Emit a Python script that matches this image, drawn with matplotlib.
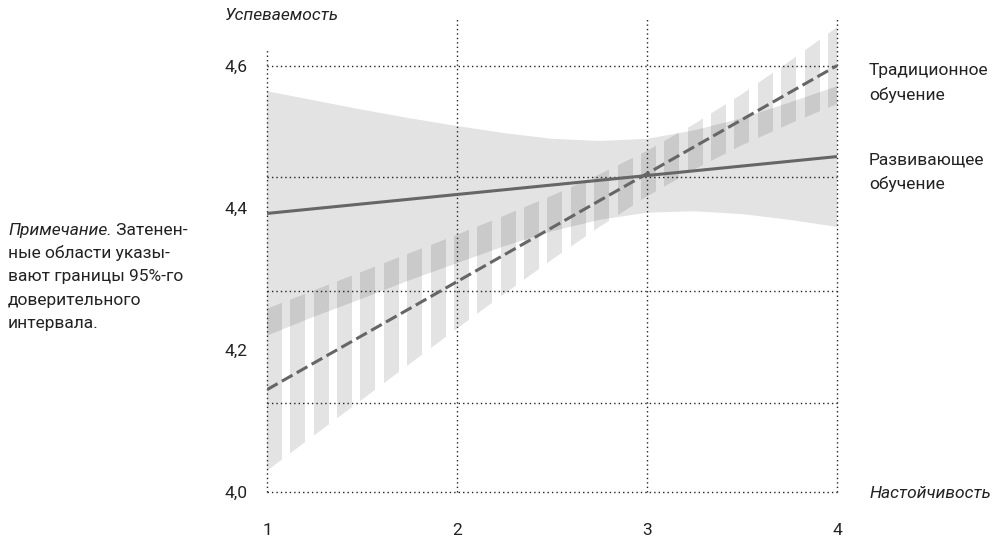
import matplotlib.pyplot as plt
import numpy as np
from matplotlib.patches import Polygon

# Data
x_pts = [1.0, 1.25, 1.5, 1.75, 2.0, 2.25, 2.5, 2.75, 3.0, 3.25, 3.5, 3.75, 4.0]

# Развивающее обучение (solid line + plain grey band)
dev_line = [4.392, 4.472]
dev_hi = [4.564, 4.551, 4.538, 4.526, 4.515, 4.505, 4.497, 4.494, 4.497, 4.509, 4.526, 4.548, 4.571]
dev_lo = [4.220, 4.247, 4.272, 4.298, 4.322, 4.346, 4.367, 4.383, 4.393, 4.395, 4.391, 4.383, 4.373]

# Традиционное обучение (dashed line + striped band)
trad_line = [4.144, 4.600]
trad_hi = [4.258, 4.284, 4.310, 4.336, 4.362, 4.389, 4.417, 4.447, 4.480, 4.518, 4.560, 4.606, 4.654]
trad_lo = [4.030, 4.080, 4.130, 4.180, 4.230, 4.279, 4.327, 4.373, 4.416, 4.454, 4.488, 4.518, 4.546]

x_ticks = [1, 2, 3, 4]
y_ticks = [4.0, 4.2, 4.4, 4.6]
y_labels = ["4,0", "4,2", "4,4", "4,6"]
grid_y = [4.6, 4.443, 4.283, 4.125, 4.0]

note_first = ("Примечание.", " Затенен-")
note_rest = ["ные области указы-", "вают границы 95%-го", "доверительного", "интервала."]

W, H = 999, 538
plt.rcParams['font.family'] = ['Roboto', 'DejaVu Sans']
fig = plt.figure(figsize=(W / 100, H / 100), dpi=100)
ax = fig.add_axes([267 / W, 1 - 492 / H, (837 - 267) / W, (492 - 18) / H])
ax.set_xlim(1, 4)
ax.set_ylim(4.0, 4.667)
for s in ax.spines.values():
    s.set_visible(False)

line_col = "#666666"
band_kw = dict(facecolor="black", alpha=0.11, edgecolor="none", zorder=1)

# grey confidence band
ax.fill_between(x_pts, dev_lo, dev_hi, **band_kw)

# striped confidence band: vertical bars clipped to the band outline
verts = np.column_stack([x_pts + x_pts[::-1], trad_lo + trad_hi[::-1]])
outline = Polygon(verts, closed=True, facecolor="none", edgecolor="none")
ax.add_patch(outline)
step, width = 0.123, 0.079
for k in range(25):
    x0 = 1 + k * step
    bar = ax.axvspan(x0, min(x0 + width, 4), **band_kw)
    bar.set_clip_path(outline)

# dotted grid
dot = dict(color="#222222", lw=1.0, linestyle=(0, (1, 2.2)), zorder=2, clip_on=False)
for gy in grid_y:
    ax.plot([1, 4], [gy, gy], **dot)
ax.plot([1, 1], [4.0, 4.625], **dot)
for gx in x_ticks[1:]:
    ax.plot([gx, gx], [4.0, 4.667], **dot)

# regression lines
ax.plot([1, 4], dev_line, color=line_col, lw=2.2, zorder=3, solid_capstyle="butt")
ax.plot([1, 4], trad_line, color=line_col, lw=2.2, zorder=3,
        linestyle=(0, (4, 1.6)), dash_capstyle="butt")

ax.set_xticks(x_ticks)
ax.set_xticklabels([str(t) for t in x_ticks])
ax.set_yticks(y_ticks)
ax.set_yticklabels(y_labels)
ax.tick_params(length=0, labelsize=12.5, colors="#222222")
ax.tick_params(axis="x", pad=22)
ax.tick_params(axis="y", pad=14)


def fx(px):
    return px / W


def fy(py):
    return 1 - py / H


txt = dict(fontsize=12.5, color="#222222")
fig.text(fx(225), fy(15), "Успеваемость", style="italic", va="center", ha="left", **txt)
fig.text(fx(870), fy(493), "Настойчивость", style="italic", va="center", ha="left", **txt)

fig.text(fx(869), fy(70), "Традиционное", va="center", ha="left", **txt)
fig.text(fx(869), fy(95), "обучение", va="center", ha="left", **txt)
fig.text(fx(869), fy(160), "Развивающее", va="center", ha="left", **txt)
fig.text(fx(869), fy(184), "обучение", va="center", ha="left", **txt)

# note on the left, one line at a time
base = fy(235)
t1 = fig.text(fx(8), base, note_first[0], style="italic", va="baseline", ha="left", **txt)
ax.annotate(note_first[1], xy=(1, base), xycoords=(t1, "figure fraction"),
            va="baseline", ha="left", annotation_clip=False, **txt)
for i, line in enumerate(note_rest):
    fig.text(fx(8), fy(235 + 23.2 * (i + 1)), line, va="baseline", ha="left", **txt)

fig.savefig("out.png", dpi=100)
